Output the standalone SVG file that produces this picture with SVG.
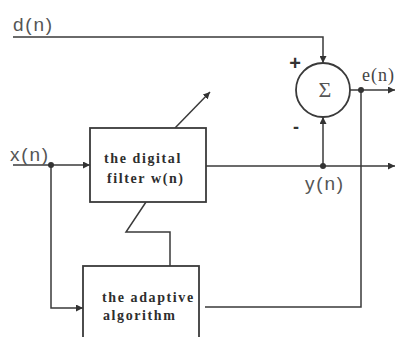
<svg xmlns="http://www.w3.org/2000/svg" width="396" height="337" viewBox="0 0 396 337">
  <defs>
    <marker id="arrow" viewBox="0 0 10 10" refX="10" refY="5" markerWidth="7" markerHeight="7" markerUnits="userSpaceOnUse" orient="auto">
      <path d="M0,0 L10,5 L0,10 z" fill="#333"/>
    </marker>
  </defs>
  <style>
    .wire { fill: none; stroke: #3a3a3a; stroke-width: 1.5; }
    .box { fill: #fff; stroke: #3a3a3a; stroke-width: 1.8; }
    .dot { fill: #333; }
    .sig { font-family: "Liberation Sans", Arial, sans-serif; font-size: 19px; letter-spacing: 1.8px; fill: #555; }
    .lbl { font-family: "Liberation Serif", "Times New Roman", serif; font-weight: bold; font-size: 14px; letter-spacing: 1.6px; fill: #2e2e2e; }
  </style>
  <rect width="396" height="337" fill="#fff"/>

  <g id="connectors">
    <!-- d(n) into the summer -->
    <polyline class="wire" points="13,37 323,37 323,63" marker-end="url(#arrow)"/>
    <!-- x(n) into the filter -->
    <line class="wire" x1="13" y1="165" x2="90" y2="165" marker-end="url(#arrow)"/>
    <!-- x(n) tap into the adaptive algorithm -->
    <polyline class="wire" points="51,165 51,308 83,308" marker-end="url(#arrow)"/>
    <!-- filter output y(n) -->
    <line class="wire" x1="206" y1="166" x2="395" y2="166" marker-end="url(#arrow)"/>
    <line class="wire" x1="323" y1="166" x2="323" y2="117" marker-end="url(#arrow)"/>
    <!-- error output e(n) -->
    <line class="wire" x1="350" y1="90" x2="395" y2="90" marker-end="url(#arrow)"/>
    <polyline class="wire" points="361,90 361,307 205,307"/>
    <!-- adaptation path to the filter -->
    <polyline class="wire" points="170,266 170,232 126,232 146,202"/>
    <!-- variable-filter arrow -->
    <line class="wire" x1="175" y1="128" x2="210" y2="92" marker-end="url(#arrow)"/>
    <circle class="dot" cx="51" cy="165" r="3"/>
    <circle class="dot" cx="323" cy="166" r="3"/>
    <circle class="dot" cx="361" cy="90" r="3"/>
  </g>

  <g id="filter">
    <rect class="box" x="90" y="128" width="116" height="74"/>
    <text class="lbl" x="104" y="163">the digital</text>
    <text class="lbl" x="107" y="183">filter w(n)</text>
  </g>

  <g id="adaptive">
    <rect class="box" x="83" y="266" width="116" height="80"/>
    <text class="lbl" x="102" y="302">the adaptive</text>
    <text class="lbl" x="103" y="320">algorithm</text>
  </g>

  <g id="summer">
    <circle cx="323" cy="90" r="27" fill="#fff" stroke="#3a3a3a" stroke-width="1.8"/>
    <text x="325" y="97" text-anchor="middle" font-family="Liberation Serif, serif" font-size="22" fill="#555">Σ</text>
    <text x="295" y="70" text-anchor="middle" font-family="Liberation Sans, sans-serif" font-weight="bold" font-size="20" fill="#333">+</text>
    <text x="296" y="133" text-anchor="middle" font-family="Liberation Sans, sans-serif" font-weight="bold" font-size="18" fill="#333">-</text>
  </g>

  <g id="labels">
    <text class="sig" x="13" y="31">d(n)</text>
    <text class="sig" x="10" y="161">x(n)</text>
    <text class="sig" x="305" y="190">y(n)</text>
    <text x="362" y="81" font-family="Liberation Serif, serif" font-size="18" letter-spacing="1" fill="#444">e(n)</text>
  </g>
</svg>
